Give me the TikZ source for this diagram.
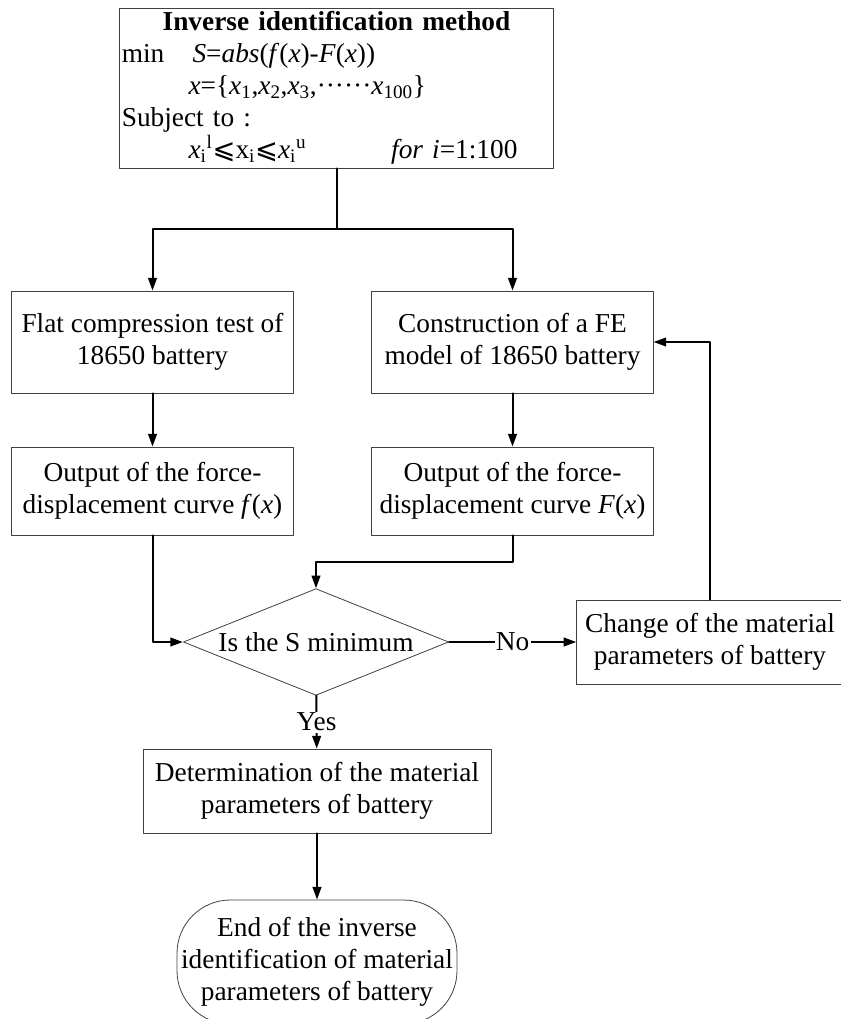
\documentclass[tikz,border=0pt]{standalone}
\usepackage{fontspec}
\setmainfont{Liberation Serif}
\newfontfamily\symfont{DejaVu Sans}
\usetikzlibrary{arrows.meta,shapes.geometric,positioning}
\newcommand{\BoxColor}{black!75}
\newcommand{\leqs}{{\symfont ⩽}}

\begin{document}
\begin{tikzpicture}[line cap=round,line join=round,>={Triangle[length=9.5pt,width=6.5pt]},x=0.75pt,y=-0.75pt,
  every node/.style={font=\fontsize{20.5}{24}\selectfont},
  box/.style={draw=\BoxColor,line width=0.6pt,rectangle,align=center,inner sep=2pt},
  link/.style={line width=1.5pt,->},
  tag/.style={fill=white,inner sep=1pt}]
  \useasboundingbox (0,0) rectangle (840,1019);
  % objective
  \node[box,align=left,text width=322pt,minimum height=120pt,inner xsep=1.5pt] (method) at (336.5,88) {%
    \makebox[\linewidth][c]{\textbf{Inverse identification method}}\\
    \makebox[53pt][l]{min}\textit{S}=\textit{abs}(\textit{f}(\textit{x})-\textit{F}(\textit{x}))\\
    \hspace*{50pt}\textit{x}=\{\textit{x}\textsubscript{1},\textit{x}\textsubscript{2},\textit{x}\textsubscript{3},······\textit{x}\textsubscript{100}\}\\
    Subject to :\\
    \hspace*{50pt}\makebox[152pt][l]{\textit{x}\textsubscript{i}\textsuperscript{l}\leqs x\textsubscript{i}\leqs\textit{x}\textsubscript{i}\textsuperscript{u}}\textit{for i}=1:100};
  \coordinate (split) at (336.5,229);
  % test branch
  \node[box,minimum width=211pt,minimum height=76.5pt] (test) at (152.5,342) {Flat compression test of\\18650 battery};
  \node[box,minimum width=211pt,minimum height=66pt] (curvef) at (152.5,491) {Output of the force-\\displacement curve \textit{f}(\textit{x})};
  % model branch
  \node[box,minimum width=211pt,minimum height=76.5pt] (model) at (512.5,342) {Construction of a FE\\model of 18650 battery};
  \node[box,minimum width=211pt,minimum height=66pt] (curveF) at (512.5,491) {Output of the force-\\displacement curve \textit{F}(\textit{x})};
  % decision
  \node[box,diamond,aspect=2.5,minimum width=199pt,minimum height=80pt,inner sep=0pt] (decide) at (316,642) {Is the S minimum};
  \node[box,minimum width=200pt,minimum height=63pt] (change) at (710,642) {Change of the material\\parameters of battery};
  \node[box,minimum width=261pt,minimum height=63pt] (determ) at (317,791) {Determination of the material\\parameters of battery};
  \node[box,rounded corners=40pt,minimum width=210pt,minimum height=93pt] (finish) at (317,962) {End of the inverse\\identification of material\\parameters of battery};

  \draw[line width=1.5pt] (method) -- (split);
  \draw[link] (split) -| (test);
  \draw[link] (split) -| (model);
  \draw[link] (test) -- (curvef);
  \draw[link] (model) -- (curveF);
  \draw[link] (curvef) |- (decide);
  \draw[link] (curveF.south) -- ++(0,27) -| (decide.north);
  \draw[link] (decide) -- node[tag] {No} (change);
  \draw[link] (change) |- (model);
  \draw[link] (decide) -- node[tag] {Yes} (determ);
  \draw[link] (determ) -- (finish);
\end{tikzpicture}
\end{document}
